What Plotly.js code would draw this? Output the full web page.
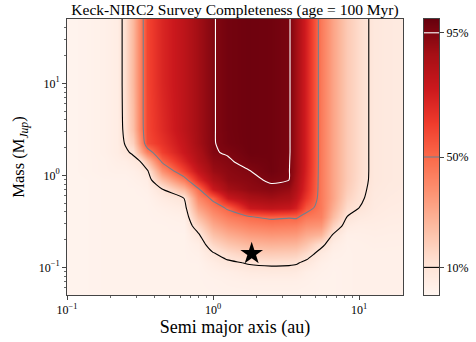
<!DOCTYPE html>
<html>
<head>
<meta charset="utf-8">
<script src="https://cdn.plot.ly/plotly-3.0.1.min.js"></script>
<style>html,body{margin:0;padding:0;background:#fff;}#chart{width:476px;height:342px;}</style>
</head>
<body>
<div id="chart"></div>
<script>
// Semi-major axis grid (au)
var A_AU = [0.1, 0.1413, 0.1778, 0.2188, 0.2512, 0.2818, 0.3162, 0.3548, 0.4467, 0.631, 0.7943, 1.0, 1.259, 1.778, 2.512, 3.311, 3.715, 4.365, 5.495, 6.607, 8.318, 10.0, 12.59, 15.85, 20.42];
// Mass grid (M_Jup)
var MASS = [0.0501, 0.0708, 0.0891, 0.1122, 0.1413, 0.1778, 0.2239, 0.2818, 0.3548, 0.4467, 0.5623, 0.7079, 0.8913, 1.122, 1.413, 1.778, 2.239, 3.162, 10.0, 50.12];
// Completeness fraction, one row per mass value
var COMPLETENESS = [
 [0.01,0.015,0.02,0.02,0.02,0.02,0.02,0.02,0.02,0.02,0.02,0.02,0.02,0.021,0.022,0.022,0.021,0.02,0.02,0.02,0.025,0.03,0.03,0.03,0.03],
 [0.01,0.015,0.02,0.02,0.02,0.02,0.02,0.02,0.02,0.02,0.02,0.023,0.03,0.036,0.037,0.037,0.036,0.03,0.02,0.02,0.025,0.03,0.03,0.03,0.03],
 [0.01,0.015,0.02,0.02,0.02,0.02,0.02,0.02,0.02,0.02,0.02,0.033,0.042,0.064,0.069,0.068,0.064,0.041,0.027,0.02,0.025,0.03,0.03,0.03,0.03],
 [0.01,0.015,0.02,0.02,0.02,0.02,0.02,0.02,0.02,0.02,0.021,0.052,0.082,0.109,0.118,0.115,0.109,0.081,0.037,0.023,0.025,0.03,0.03,0.03,0.03],
 [0.01,0.015,0.02,0.02,0.02,0.02,0.02,0.02,0.02,0.02,0.031,0.092,0.141,0.186,0.199,0.194,0.188,0.142,0.067,0.033,0.025,0.03,0.03,0.03,0.03],
 [0.01,0.015,0.02,0.02,0.02,0.02,0.02,0.02,0.02,0.02,0.046,0.157,0.216,0.264,0.279,0.273,0.268,0.22,0.125,0.053,0.027,0.03,0.035,0.034,0.033],
 [0.01,0.015,0.02,0.02,0.02,0.02,0.02,0.02,0.02,0.02,0.086,0.227,0.291,0.341,0.359,0.353,0.348,0.299,0.265,0.093,0.034,0.036,0.04,0.038,0.037],
 [0.01,0.015,0.02,0.02,0.02,0.02,0.02,0.02,0.02,0.024,0.153,0.298,0.366,0.419,0.44,0.432,0.427,0.377,0.358,0.173,0.058,0.046,0.048,0.044,0.042],
 [0.01,0.015,0.02,0.02,0.02,0.02,0.02,0.02,0.024,0.034,0.236,0.368,0.441,0.496,0.525,0.512,0.519,0.456,0.428,0.247,0.098,0.068,0.056,0.05,0.047],
 [0.01,0.015,0.02,0.02,0.02,0.02,0.02,0.02,0.034,0.058,0.319,0.438,0.52,0.754,0.788,0.767,0.716,0.553,0.45,0.291,0.138,0.101,0.064,0.056,0.052],
 [0.01,0.015,0.02,0.02,0.02,0.02,0.02,0.022,0.058,0.098,0.402,0.529,0.76,0.859,0.884,0.86,0.792,0.64,0.45,0.32,0.169,0.117,0.07,0.062,0.057],
 [0.01,0.015,0.02,0.02,0.02,0.02,0.024,0.032,0.098,0.265,0.485,0.756,0.877,0.919,0.934,0.905,0.836,0.684,0.45,0.32,0.189,0.128,0.075,0.066,0.061],
 [0.01,0.015,0.02,0.02,0.02,0.027,0.034,0.047,0.233,0.44,0.671,0.844,0.914,0.934,0.96,0.951,0.859,0.699,0.45,0.32,0.20,0.136,0.08,0.07,0.065],
 [0.01,0.02,0.025,0.03,0.03,0.037,0.055,0.087,0.375,0.609,0.771,0.895,0.927,0.949,0.98,0.955,0.88,0.713,0.45,0.32,0.20,0.14,0.08,0.07,0.065],
 [0.01,0.02,0.025,0.04,0.045,0.068,0.095,0.233,0.513,0.705,0.83,0.921,0.941,0.973,0.98,0.958,0.88,0.72,0.45,0.32,0.20,0.14,0.08,0.07,0.065],
 [0.01,0.02,0.03,0.05,0.085,0.113,0.276,0.432,0.615,0.758,0.853,0.945,0.956,0.985,0.98,0.962,0.88,0.72,0.45,0.32,0.20,0.14,0.08,0.07,0.065],
 [0.01,0.02,0.03,0.05,0.107,0.177,0.37,0.58,0.655,0.776,0.876,0.945,0.9725,0.985,0.98,0.962,0.88,0.72,0.45,0.32,0.20,0.14,0.08,0.07,0.065],
 [0.01,0.02,0.03,0.05,0.122,0.234,0.42,0.595,0.683,0.80,0.88,0.945,0.975,0.985,0.98,0.962,0.88,0.72,0.45,0.32,0.20,0.14,0.08,0.07,0.065],
 [0.01,0.02,0.03,0.05,0.13,0.26,0.42,0.60,0.70,0.80,0.88,0.945,0.975,0.985,0.98,0.962,0.88,0.72,0.45,0.32,0.20,0.14,0.08,0.07,0.065],
 [0.01,0.02,0.03,0.05,0.13,0.26,0.42,0.60,0.70,0.80,0.88,0.945,0.975,0.985,0.98,0.962,0.88,0.72,0.45,0.32,0.20,0.14,0.08,0.07,0.065]
];
// Contour levels and labels
var LEVELS = [0.10, 0.50, 0.95];
var LEVEL_LABELS = ['10%', '50%', '95%'];
var LEVEL_COLORS = ['#000000', '#708090', '#ffffff'];
// Companion marker
var STAR_A = [1.84];
var STAR_M = [0.141];
// Colour bar ramp end points
var CBAR_Z = [[0], [1]];
var CBAR_Y = [0, 1];

var REDS = [
  [0.0, '#fff5f0'], [0.125, '#fee0d2'], [0.25, '#fcbba1'], [0.375, '#fc9272'],
  [0.5, '#fb6a4a'], [0.625, '#ef3b2c'], [0.75, '#cb181d'], [0.875, '#a50f15'], [1.0, '#67000d']
];
var FONT = '"Liberation Serif", "DejaVu Serif", serif';
var AXC = '#444';

function minorTicks(lo, hi) {
  var out = [];
  for (var e = -2; e <= 2; e++) {
    for (var k = 2; k <= 9; k++) {
      var v = k * Math.pow(10, e);
      if (v > lo && v < hi) out.push(v);
    }
  }
  return out;
}

var traces = [];
traces.push({
  type: 'heatmap', x: A_AU, y: MASS, z: COMPLETENESS, zmin: 0, zmax: 1,
  colorscale: REDS, zsmooth: 'best', showscale: false, hoverinfo: 'skip'
});
for (var i = 0; i < LEVELS.length; i++) {
  traces.push({
    type: 'contour', x: A_AU, y: MASS, z: COMPLETENESS, autocontour: false,
    contours: {start: LEVELS[i], end: LEVELS[i], size: 1, coloring: 'none', showlabels: false},
    line: {color: LEVEL_COLORS[i], width: 1.1, smoothing: 0.6},
    showscale: false, hoverinfo: 'skip'
  });
}
traces.push({
  type: 'scatter', mode: 'markers', x: STAR_A, y: STAR_M,
  marker: {symbol: 'star', size: 17, color: '#000'}, hoverinfo: 'skip'
});
// colour bar as its own subplot
traces.push({
  type: 'heatmap', x: [0], y: CBAR_Y, z: CBAR_Z, zmin: 0, zmax: 1,
  colorscale: REDS, zsmooth: 'best', showscale: false, xaxis: 'x2', yaxis: 'y2', hoverinfo: 'skip'
});
for (var j = 0; j < LEVELS.length; j++) {
  traces.push({
    type: 'scatter', mode: 'lines', x: [-0.5, 0.5], y: [LEVELS[j], LEVELS[j]],
    line: {color: LEVEL_COLORS[j], width: 1.1}, xaxis: 'x2', yaxis: 'y2', hoverinfo: 'skip'
  });
}

var L = 67, R = 37, T = 19, B = 47, W = 476, H = 342;
var pw = W - L - R;
var mainRight = (403 - L) / pw;
var cbLeft = (424 - L) / pw;

var layout = {
  width: W, height: H,
  margin: {l: L, r: R, t: T, b: B, pad: 0},
  paper_bgcolor: '#fff', plot_bgcolor: '#fff',
  showlegend: false,
  font: {family: FONT, color: '#000', size: 11},
  title: {
    text: 'Keck-NIRC2 Survey Completeness (age = 100 Myr)',
    font: {family: FONT, size: 15.5, color: '#000'},
    x: (235 - L) / pw, xref: 'paper', xanchor: 'center',
    y: 1 - 10 / H, yref: 'container', yanchor: 'middle'
  },
  xaxis: {
    type: 'log', domain: [0, mainRight], range: [-1, Math.log10(20)],
    tickmode: 'array', tickvals: [0.1, 1, 10],
    ticktext: ['10<sup>\u22121</sup>', '10<sup>0</sup>', '10<sup>1</sup>'],
    ticks: 'outside', ticklen: 4, tickwidth: 1, tickcolor: AXC,
    minor: {tickmode: 'array', tickvals: minorTicks(0.1, 20), ticks: 'outside', ticklen: 2, tickwidth: 0.8, tickcolor: AXC, showgrid: false},
    showgrid: false, zeroline: false, showline: true, linecolor: AXC, linewidth: 1, mirror: true,
    tickfont: {family: FONT, size: 12},
    title: {text: 'Semi major axis (au)', font: {family: FONT, size: 18}, standoff: 2}
  },
  yaxis: {
    type: 'log', range: [Math.log10(0.05), Math.log10(50)],
    tickmode: 'array', tickvals: [0.1, 1, 10],
    ticktext: ['10<sup>\u22121</sup>', '10<sup>0</sup>', '10<sup>1</sup>'],
    ticks: 'outside', ticklen: 4, tickwidth: 1, tickcolor: AXC,
    minor: {tickmode: 'array', tickvals: minorTicks(0.05, 50), ticks: 'outside', ticklen: 2, tickwidth: 0.8, tickcolor: AXC, showgrid: false},
    showgrid: false, zeroline: false, showline: true, linecolor: AXC, linewidth: 1, mirror: true,
    tickfont: {family: FONT, size: 12},
    title: {text: 'Mass (M<sub><i>Jup</i></sub>)', font: {family: FONT, size: 16.5}, standoff: 9}
  },
  xaxis2: {
    domain: [cbLeft, 1], range: [-0.5, 0.5], anchor: 'y2',
    showticklabels: false, ticks: '', showgrid: false, zeroline: false,
    showline: true, linecolor: AXC, linewidth: 1, mirror: true, fixedrange: true
  },
  yaxis2: {
    domain: [0, 1], range: [0, 1], anchor: 'x2', side: 'right',
    tickmode: 'array', tickvals: LEVELS, ticktext: LEVEL_LABELS,
    ticks: 'outside', ticklen: 4, tickwidth: 1, tickcolor: AXC,
    showgrid: false, zeroline: false, showline: true, linecolor: AXC, linewidth: 1, mirror: true,
    tickfont: {family: FONT, size: 12}, fixedrange: true
  }
};

Plotly.newPlot('chart', traces, layout, {staticPlot: true, displayModeBar: false});
</script>
</body>
</html>
